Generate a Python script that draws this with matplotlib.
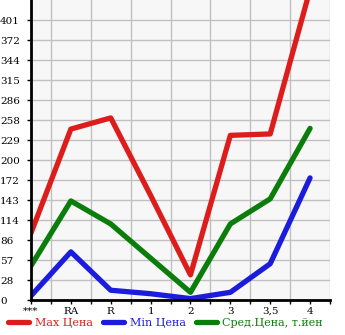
import matplotlib.pyplot as plt
import numpy as np

categories = ['***', 'RA', 'R', '1', '2', '3', '3,5', '4']
max_price = [96, 245, 261, 150, 36, 236, 238, 445]
min_price = [6, 69, 14, 9, 2, 11, 52, 175]
avg_price = [49, 142, 109, 60, 11, 109, 145, 246]
y_ticks = [0, 28, 57, 86, 114, 143, 172, 200, 229, 258, 286, 315, 344, 372, 401]

fig = plt.figure(figsize=(3.45, 3.35), dpi=100)
ax = fig.add_axes([31 / 345, 1 - 300 / 335, 299 / 345, 300 / 335])
ax.set_facecolor('#f7f7f7')

x = np.arange(len(categories))
ax.plot(x, max_price, color='#dd1c1c', lw=3.8, solid_capstyle='round', label='Max Цена')
ax.plot(x, min_price, color='#1c1cdd', lw=3.8, solid_capstyle='round', label='Min Цена')
ax.plot(x, avg_price, color='#0a7d0a', lw=3.8, solid_capstyle='round', label='Сред.Цена, т.йен')

ax.set_xlim(0, 7.5)
ax.set_ylim(0, 430)
ax.set_xticks(x)
ax.set_xticklabels(categories, fontfamily='DejaVu Serif', fontsize=7.5)
ax.set_xticks(np.arange(0, 7.6, 0.5), minor=True)
ax.set_yticks(y_ticks)
ax.set_yticklabels([str(v) for v in y_ticks], fontfamily='DejaVu Serif', fontsize=7.5)
for lbl in ax.get_yticklabels():
    lbl.set_horizontalalignment('left')
ax.tick_params(axis='y', length=3, width=1, pad=19.2)
ax.tick_params(axis='x', which='both', length=3, width=1, pad=2)
ax.grid(True, which='minor', axis='x', color='#c0c0c0', lw=1)
ax.grid(True, which='major', axis='y', color='#c0c0c0', lw=1)
ax.set_axisbelow(True)
for s in ['top', 'right']:
    ax.spines[s].set_visible(False)
ax.spines['left'].set_linewidth(2)
ax.spines['bottom'].set_linewidth(2)

fig.legend(loc='lower center', bbox_to_anchor=(0.48, -0.01), ncol=3, frameon=False,
           labelcolor='linecolor', prop={'family': 'DejaVu Serif', 'size': 8},
           handlelength=1.9, columnspacing=0.9, handletextpad=0.5)

fig.savefig('out.png', dpi=100)
